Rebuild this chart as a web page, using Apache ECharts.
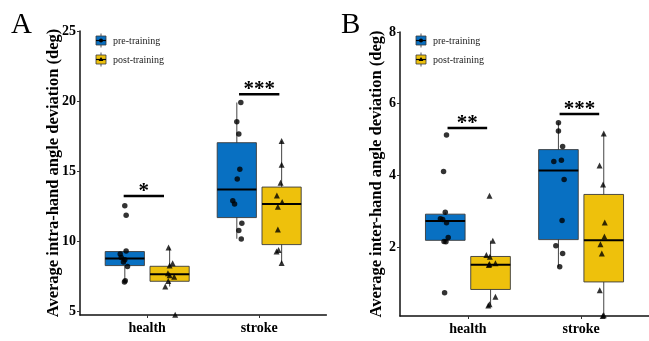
<!DOCTYPE html>
<html>
<head>
<meta charset="utf-8">
<script src="https://cdn.jsdelivr.net/npm/echarts@6/dist/echarts.min.js"></script>
<style>
  html, body { margin: 0; padding: 0; background: #fff; }
  #chart { width: 649px; height: 341px; }
</style>
</head>
<body>
<div id="chart"></div>
<script>
// ---- data -------------------------------------------------------------
const categories = ['health', 'stroke'];
const groupNames = ['pre-training', 'post-training'];

// A: average intra-hand angle deviation (deg), individual subjects
const intraPreHealth  = [12.52, 11.83, 9.29, 9.07, 8.81, 8.65, 8.50, 8.17, 7.16, 7.07];
const intraPostHealth = [9.53, 8.40, 8.25, 7.70, 7.55, 7.45, 7.14, 6.74, 4.72];
const intraPreStroke  = [19.90, 18.52, 17.64, 15.12, 14.43, 12.88, 12.64, 11.26, 10.74, 10.14];
const intraPostStroke = [17.14, 15.45, 14.16, 13.24, 12.79, 12.45, 10.81, 9.36, 9.24, 8.43];

// B: average inter-hand angle deviation (deg), individual subjects
const interPreHealth  = [5.13, 4.11, 2.97, 2.79, 2.77, 2.68, 2.27, 2.16, 2.15, 0.73];
const interPostHealth = [3.43, 2.18, 1.78, 1.73, 1.55, 1.53, 1.50, 0.62, 0.41, 0.37];
const interPreStroke  = [5.47, 5.24, 4.81, 4.42, 4.39, 3.89, 2.74, 2.04, 1.82, 1.45];
const interPostStroke = [5.17, 4.28, 3.75, 2.69, 2.30, 2.08, 1.82, 0.80, 0.10, 0.08];

// box summaries per category: [lower whisker, Q1, median, Q3, upper whisker]
const intraPreBox  = [[7.07, 8.24, 8.74, 9.24, 9.30], [10.15, 11.67, 13.67, 17.02, 19.90]];
const intraPostBox = [[6.74, 7.12, 7.62, 8.19, 9.53], [8.43, 9.74, 12.64, 13.85, 17.14]];
const interPreBox  = [[2.15, 2.19, 2.73, 2.92, 2.97], [1.45, 2.21, 4.14, 4.72, 5.48]];
const interPostBox = [[0.37, 0.82, 1.51, 1.74, 2.18], [0.08, 1.03, 2.19, 3.47, 5.16]];

// y-axis ticks
const intraTicks = [5, 10, 15, 20, 25];
const interTicks = [2, 4, 6, 8];

// significance marks per category
const intraSigLabels = ['*', '***'];
const intraSigLevel  = [13.21, 20.48];
const interSigLabels = ['**', '***'];
const interSigLevel  = [5.32, 5.71];

// ---- layout / style ---------------------------------------------------
const SERIF = 'Liberation Serif, Times New Roman, serif';
const BLUE = '#0870C2';
const GOLD = '#EEC10C';
const DODGE = 0.2;      // group offset from category centre (category units)
const BOX_W = 0.35;     // box width (category units)

// horizontal scatter of points around each box centre (category units)
const jitterA = {
  preHealth:  [0, 0.012, 0.012, -0.041, -0.032, 0, -0.012, 0.024, 0.004, -0.003],
  postHealth: [-0.009, 0.027, 0, -0.015, 0, 0.041, -0.012, -0.039, 0.05],
  preStroke:  [0.036, 0, 0.018, 0.027, 0.004, -0.036, -0.02, 0.045, 0.018, 0.04],
  postStroke: [0, 0, -0.009, -0.042, 0.005, -0.033, -0.033, -0.027, -0.045, 0]
};
const jitterB = {
  preHealth:  [0.011, -0.015, 0, -0.043, -0.023, 0.011, 0.026, -0.011, 0.006, -0.006],
  postHealth: [-0.009, 0.02, -0.037, -0.006, 0.043, -0.009, -0.015, 0.043, -0.009, -0.02],
  preStroke:  [0, 0, 0.037, 0.026, -0.041, 0.05, 0.032, -0.023, 0.037, 0.011],
  postStroke: [0, -0.037, -0.006, 0.009, 0.006, -0.029, -0.017, -0.035, 0, -0.009]
};

function boxData(stats, side) {
  return stats.map((s, i) => [i + 1 + side * DODGE].concat(s));
}

function pointData(values, catIdx, side, jitter) {
  return values.map((v, i) => [catIdx + 1 + side * DODGE + jitter[i], v]);
}

function boxRender(color) {
  return function (params, api) {
    const x = api.value(0);
    const lo = api.coord([x, api.value(1)]);
    const q1 = api.coord([x, api.value(2)]);
    const md = api.coord([x, api.value(3)]);
    const q3 = api.coord([x, api.value(4)]);
    const hi = api.coord([x, api.value(5)]);
    const half = api.size([BOX_W, 0])[0] / 2;
    return {
      type: 'group',
      children: [
        { type: 'line', shape: { x1: lo[0], y1: lo[1], x2: hi[0], y2: hi[1] },
          style: { stroke: '#555', lineWidth: 1.1 } },
        { type: 'rect', shape: { x: q3[0] - half, y: q3[1], width: half * 2, height: q1[1] - q3[1] },
          style: { fill: color, stroke: '#3a3a3a', lineWidth: 0.9 } },
        { type: 'line', shape: { x1: md[0] - half, y1: md[1], x2: md[0] + half, y2: md[1] },
          style: { stroke: '#000', lineWidth: 2 } }
      ]
    };
  };
}

function sigRender(labels) {
  return function (params, api) {
    const a = api.coord([api.value(0), api.value(2)]);
    const b = api.coord([api.value(1), api.value(2)]);
    return {
      type: 'group',
      children: [
        { type: 'line', shape: { x1: a[0], y1: a[1], x2: b[0], y2: b[1] },
          style: { stroke: '#000', lineWidth: 2.5 } },
        { type: 'text', x: (a[0] + b[0]) / 2, y: a[1] + 6,
          style: { text: labels[params.dataIndex], fill: '#000', font: 'bold 21px ' + SERIF,
                   align: 'center', verticalAlign: 'bottom' } }
      ]
    };
  };
}

function xAxisCfg(gridIndex) {
  return {
    type: 'value', gridIndex, min: 0.4, max: 2.6,
    splitLine: { show: false },
    axisLine: { show: true, onZero: false, lineStyle: { color: '#111', width: 1.5 } },
    axisTick: { show: true, customValues: [1, 2], length: 3, lineStyle: { color: '#333', width: 1 } },
    axisLabel: { customValues: [1, 2], formatter: v => categories[Math.round(v) - 1], margin: 6,
                 color: '#000', fontFamily: SERIF, fontWeight: 'bold', fontSize: 14 }
  };
}

function yAxisCfg(gridIndex, min, max, ticks, title, gap) {
  return {
    type: 'value', gridIndex, min, max,
    splitLine: { show: false },
    axisLine: { show: true, onZero: false, lineStyle: { color: '#111', width: 1.5 } },
    axisTick: { show: true, customValues: ticks, length: 3, lineStyle: { color: '#333', width: 1 } },
    axisLabel: { customValues: ticks, margin: 4, color: '#000', fontFamily: SERIF,
                 fontWeight: 'bold', fontSize: 14 },
    name: title, nameLocation: 'middle', nameGap: gap, nameMoveOverlap: false,
    nameTextStyle: { color: '#000', fontFamily: SERIF, fontWeight: 'bold', fontSize: 16.5 }
  };
}

function legendItems(x0) {
  const out = [];
  const rows = [
    { cy: 40.5, color: BLUE, shape: 'circle', label: groupNames[0] },
    { cy: 59.5, color: GOLD, shape: 'triangle', label: groupNames[1] }
  ];
  rows.forEach(r => {
    const cx = x0 + 21;
    out.push({ type: 'line', shape: { x1: cx, y1: r.cy - 7, x2: cx, y2: r.cy + 7 },
               style: { stroke: '#555', lineWidth: 1 } });
    out.push({ type: 'rect', shape: { x: cx - 5, y: r.cy - 4.5, width: 10, height: 9 },
               style: { fill: r.color, stroke: '#3a3a3a', lineWidth: 0.8 } });
    out.push({ type: 'line', shape: { x1: cx - 5, y1: r.cy, x2: cx + 5, y2: r.cy },
               style: { stroke: '#000', lineWidth: 1.2 } });
    if (r.shape === 'circle') {
      out.push({ type: 'circle', shape: { cx, cy: r.cy, r: 2 }, style: { fill: '#000' } });
    } else {
      out.push({ type: 'polygon', shape: { points: [[cx, r.cy - 2.6], [cx - 2.4, r.cy + 1.6], [cx + 2.4, r.cy + 1.6]] },
                 style: { fill: '#000' } });
    }
    out.push({ type: 'text', x: x0 + 33, y: r.cy + 1.2,
               style: { text: r.label, fill: '#222', font: '10px ' + SERIF, verticalAlign: 'middle' } });
  });
  return out;
}

function scatter(name, xi, yi, data, symbol) {
  return { name, type: 'scatter', xAxisIndex: xi, yAxisIndex: yi, data, symbol,
           symbolSize: symbol === 'triangle' ? 6 : 5.5, itemStyle: { color: '#000' },
           z: 5, clip: false, silent: true };
}

function boxes(name, xi, yi, stats, side, color) {
  return { name, type: 'custom', xAxisIndex: xi, yAxisIndex: yi,
           data: boxData(stats, side), renderItem: boxRender(color),
           encode: { x: 0, y: [1, 2, 3, 4, 5] }, z: 2, silent: true };
}

function sigSeries(xi, yi, spans, levels, labels) {
  return { type: 'custom', xAxisIndex: xi, yAxisIndex: yi,
           data: spans.map((s, i) => [s[0], s[1], levels[i]]),
           renderItem: sigRender(labels), encode: { x: [0, 1], y: 2 }, z: 6, silent: true };
}

const chart = echarts.init(document.getElementById('chart'), null, { renderer: 'canvas' });

chart.setOption({
  backgroundColor: '#fff',
  animation: false,
  grid: [
    { left: 80, top: 31, width: 246.4, height: 284 },
    { left: 400, top: 32, width: 253, height: 284 }
  ],
  xAxis: [xAxisCfg(0), xAxisCfg(1)],
  yAxis: [
    yAxisCfg(0, 4.71, 25, intraTicks, 'Average intra-hand angle deviation (deg)', 18),
    yAxisCfg(1, 0.08, 8, interTicks, 'Average inter-hand angle deviation (deg)', 15)
  ],
  graphic: [
    { type: 'text', x: 11, y: 40, style: { text: 'A', fill: '#000', font: '29px ' + SERIF, verticalAlign: 'bottom' } },
    { type: 'text', x: 341, y: 40, style: { text: 'B', fill: '#000', font: '29px ' + SERIF, verticalAlign: 'bottom' } }
  ].concat(legendItems(80), legendItems(400)),
  series: [
    boxes('pre-training', 0, 0, intraPreBox, -1, BLUE),
    boxes('post-training', 0, 0, intraPostBox, 1, GOLD),
    scatter('pre-training', 0, 0, pointData(intraPreHealth, 0, -1, jitterA.preHealth)
      .concat(pointData(intraPreStroke, 1, -1, jitterA.preStroke)), 'circle'),
    scatter('post-training', 0, 0, pointData(intraPostHealth, 0, 1, jitterA.postHealth)
      .concat(pointData(intraPostStroke, 1, 1, jitterA.postStroke)), 'triangle'),
    sigSeries(0, 0, [[0.79, 1.15], [1.82, 2.18]], intraSigLevel, intraSigLabels),

    boxes('pre-training', 1, 1, interPreBox, -1, BLUE),
    boxes('post-training', 1, 1, interPostBox, 1, GOLD),
    scatter('pre-training', 1, 1, pointData(interPreHealth, 0, -1, jitterB.preHealth)
      .concat(pointData(interPreStroke, 1, -1, jitterB.preStroke)), 'circle'),
    scatter('post-training', 1, 1, pointData(interPostHealth, 0, 1, jitterB.postHealth)
      .concat(pointData(interPostStroke, 1, 1, jitterB.postStroke)), 'triangle'),
    sigSeries(1, 1, [[0.82, 1.17], [1.81, 2.16]], interSigLevel, interSigLabels)
  ]
});
</script>
</body>
</html>
